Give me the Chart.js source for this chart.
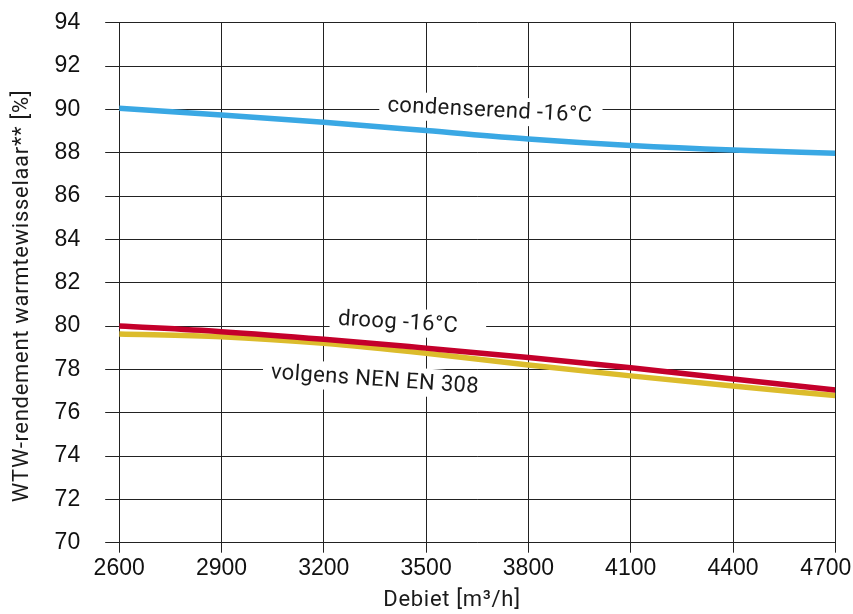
<!DOCTYPE html>
<html lang="nl">
<head>
<meta charset="utf-8">
<title>WTW-rendement</title>
<script src="https://cdn.jsdelivr.net/npm/chart.js@4/dist/chart.umd.min.js"></script>
<style>
  html, body { margin: 0; padding: 0; background: #fff; }
  #wrap { width: 853px; height: 614px; }
</style>
</head>
<body>
<div id="wrap"><canvas id="chart" width="853" height="614"></canvas></div>
<script>
// Debiet (m3/h) and rendement values
const flow = [2600, 2900, 3200, 3500, 3800, 4100, 4400, 4700];
const condenserend = [90.05, 89.74, 89.40, 89.02, 88.63, 88.33, 88.12, 87.98];
const droog = [80.00, 79.74, 79.39, 78.98, 78.55, 78.07, 77.56, 77.05];
const nenEn308 = [79.63, 79.51, 79.20, 78.74, 78.20, 77.70, 77.23, 76.79];
const xTicks = [2600, 2900, 3200, 3500, 3800, 4100, 4400, 4700];
const yTicks = [70, 72, 74, 76, 78, 80, 82, 84, 86, 88, 90, 92, 94];

const seriesNames = ['condenserend -16°C', 'droog -16°C', 'volgens NEN EN 308'];

const toPoints = vals => flow.map((x, i) => ({ x, y: vals[i] }));

// Labels on the curves, anchored in data coordinates
const curveLabels = [
    { text: seriesNames[0], x: 3687, y: 89.97, angle: 3, padL: 8, padR: 10 },
    { text: seriesNames[1], x: 3418, y: 80.19, angle: 3.5, padL: 8, padR: 28 },
    { text: seriesNames[2], x: 3350, y: 77.55, angle: 4, padL: 8, padR: 6 }
];

const labelFont = '22px Roboto, "DejaVu Sans", sans-serif';

const curveLabelPlugin = {
    id: 'curveLabels',
    beforeDatasetsDraw(chart) {
        const { ctx, scales } = chart;
        ctx.save();
        ctx.font = labelFont;
        ctx.letterSpacing = '0.4px';
        ctx.textAlign = 'center';
        ctx.textBaseline = 'middle';
        curveLabels.forEach(l => {
            const px = scales.x.getPixelForValue(l.x);
            const py = scales.y.getPixelForValue(l.y);
            const w = ctx.measureText(l.text).width;
            ctx.save();
            ctx.translate(px, py);
            ctx.rotate(l.angle * Math.PI / 180);
            ctx.fillStyle = '#fff';
            ctx.fillRect(-w / 2 - l.padL, -14, w + l.padL + l.padR, 28);
            ctx.fillStyle = '#1a1a1a';
            ctx.fillText(l.text, 0, 1);
            ctx.restore();
        });
        ctx.restore();
    },
    afterDraw(chart) {
        const { ctx } = chart;
        ctx.save();
        ctx.font = '22px Roboto, "DejaVu Sans", sans-serif';
        ctx.letterSpacing = '0.7px';
        ctx.fillStyle = '#1a1a1a';
        ctx.textAlign = 'center';
        ctx.textBaseline = 'middle';
        ctx.fillText('Debiet [m³/h]', 452, 600);
        ctx.translate(22, 296);
        ctx.rotate(-Math.PI / 2);
        ctx.fillText('WTW-rendement warmtewisselaar** [%]', 0, 0);
        ctx.restore();
    }
};

const tickFont = { family: '"Liberation Sans", Arial, sans-serif', size: 23 };

new Chart(document.getElementById('chart'), {
    type: 'line',
    data: {
        datasets: [
            { label: seriesNames[0], data: toPoints(condenserend), borderColor: '#3aa8e4', borderWidth: 5.5 },
            { label: seriesNames[1], data: toPoints(droog), borderColor: '#c4002b', borderWidth: 5.5 },
            { label: seriesNames[2], data: toPoints(nenEn308), borderColor: '#dcbc2c', borderWidth: 5.5 }
        ]
    },
    options: {
        responsive: false,
        animation: false,
        parsing: false,
        layout: { padding: { top: 22.7, right: 17.7, bottom: 0, left: 0 } },
        elements: {
            point: { radius: 0 },
            line: { tension: 0.4, cubicInterpolationMode: 'monotone', fill: false, borderCapStyle: 'butt' }
        },
        plugins: {
            legend: { display: false },
            tooltip: { enabled: false }
        },
        scales: {
            x: {
                type: 'linear',
                min: 2600,
                max: 4700,
                afterBuildTicks: s => { s.ticks = xTicks.map(v => ({ value: v })); },
                afterFit: s => { s.height = 71.3; s.paddingLeft = 0; s.paddingRight = 0; },
                ticks: {
                    font: tickFont, color: '#111', padding: 2, maxRotation: 0, autoSkip: false,
                    // last label sits a little left of its gridline, as in the original
                    callback: (v, i, arr) => i === arr.length - 1 ? String(v) + '   ' : String(v)
                },
                grid: { color: '#222', lineWidth: 1, tickLength: 10 },
                border: { display: false }
            },
            y: {
                min: 70,
                max: 94,
                afterBuildTicks: s => { s.ticks = yTicks.map(v => ({ value: v })); },
                afterFit: s => { s.width = 119.2; s.paddingTop = 0; s.paddingBottom = 0; },
                ticks: { font: tickFont, color: '#111', padding: 25, autoSkip: false },
                grid: { color: '#222', lineWidth: 1, tickLength: 14 },
                border: { display: false }
            }
        }
    },
    plugins: [curveLabelPlugin]
});
</script>
</body>
</html>
